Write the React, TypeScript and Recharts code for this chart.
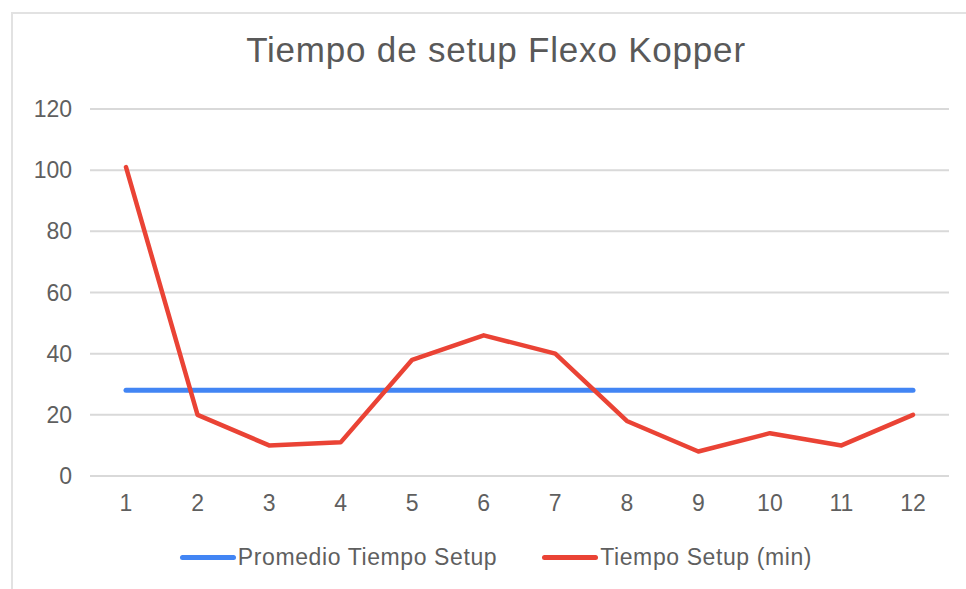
import { LineChart, Line, XAxis, YAxis, CartesianGrid, Legend } from "recharts"

const categories = ["1", "2", "3", "4", "5", "6", "7", "8", "9", "10", "11", "12"]
const tiempoSetup = [101, 20, 10, 11, 38, 46, 40, 18, 8, 14, 10, 20]
const promedioSetup = [28, 28, 28, 28, 28, 28, 28, 28, 28, 28, 28, 28]
const yTicks = [0, 20, 40, 60, 80, 100, 120]

const FONT = "'Liberation Sans', Arial, sans-serif"
const BLUE = "#4285F4"
const RED = "#EA4335"

const data = categories.map((c, i) => ({
  name: c,
  promedio: promedioSetup[i],
  tiempo: tiempoSetup[i],
}))

const legendItems = [
  { label: "Promedio Tiempo Setup", color: BLUE },
  { label: "Tiempo Setup (min)", color: RED },
]

function ChartLegend() {
  return (
    <div
      style={{
        height: 40,
        display: "flex",
        alignItems: "center",
        justifyContent: "center",
        paddingLeft: 26,
        fontFamily: FONT,
        fontSize: 23,
        letterSpacing: 0.6,
        color: "#5f5f5f",
      }}
    >
      {legendItems.map((it, i) => (
        <div key={it.label} style={{ display: "flex", alignItems: "center", marginLeft: i ? 45 : 0 }}>
          <span
            style={{
              display: "inline-block",
              width: 56,
              height: 5,
              borderRadius: 3,
              background: it.color,
              marginRight: 2,
            }}
          />
          <span>{it.label}</span>
        </div>
      ))}
    </div>
  )
}

export default function App() {
  return (
    <div style={{ position: "absolute", left: 0, top: 0, width: 966, height: 589, background: "#fff" }}>
      <div
        style={{
          position: "absolute",
          left: 11,
          top: 12,
          right: 0,
          bottom: 0,
          borderTop: "2px solid #e2e2e2",
          borderLeft: "2px solid #e2e2e2",
        }}
      />
      <div
        style={{
          position: "absolute",
          left: 0,
          top: 30,
          width: 966,
          paddingLeft: 26,
          boxSizing: "border-box",
          textAlign: "center",
          fontFamily: FONT,
          fontSize: 35,
          letterSpacing: 0.8,
          color: "#595959",
          lineHeight: "40px",
        }}
      >
        Tiempo de setup Flexo Kopper
      </div>
      <div style={{ position: "absolute", left: 0, top: 0 }}>
        <LineChart width={966} height={589} data={data} margin={{ top: 109, right: 17, bottom: 43, left: 0 }}>
          <CartesianGrid vertical={false} stroke="#d9d9d9" strokeWidth={2} />
          <XAxis
            dataKey="name"
            height={30}
            padding={{ left: 36, right: 36 }}
            axisLine={{ stroke: "#d9d9d9", strokeWidth: 2 }}
            tickLine={false}
            tickMargin={13}
            tick={{ fill: "#5f5f5f", fontSize: 23, fontFamily: FONT }}
            interval={0}
          />
          <YAxis
            width={90}
            domain={[0, 120]}
            ticks={yTicks}
            axisLine={false}
            tickLine={false}
            tickMargin={12}
            tick={{ fill: "#5f5f5f", fontSize: 23, fontFamily: FONT }}
          />
          <Legend
            verticalAlign="bottom"
            content={() => <ChartLegend />}
            wrapperStyle={{ left: 0, width: 966, bottom: 12 }}
          />
          <Line
            dataKey="promedio"
            name="Promedio Tiempo Setup"
            stroke={BLUE}
            strokeWidth={5}
            strokeLinecap="round"
            dot={false}
            activeDot={false}
            isAnimationActive={false}
          />
          <Line
            dataKey="tiempo"
            name="Tiempo Setup (min)"
            stroke={RED}
            strokeWidth={4.5}
            strokeLinecap="round"
            strokeLinejoin="round"
            dot={false}
            activeDot={false}
            isAnimationActive={false}
          />
        </LineChart>
      </div>
    </div>
  )
}
